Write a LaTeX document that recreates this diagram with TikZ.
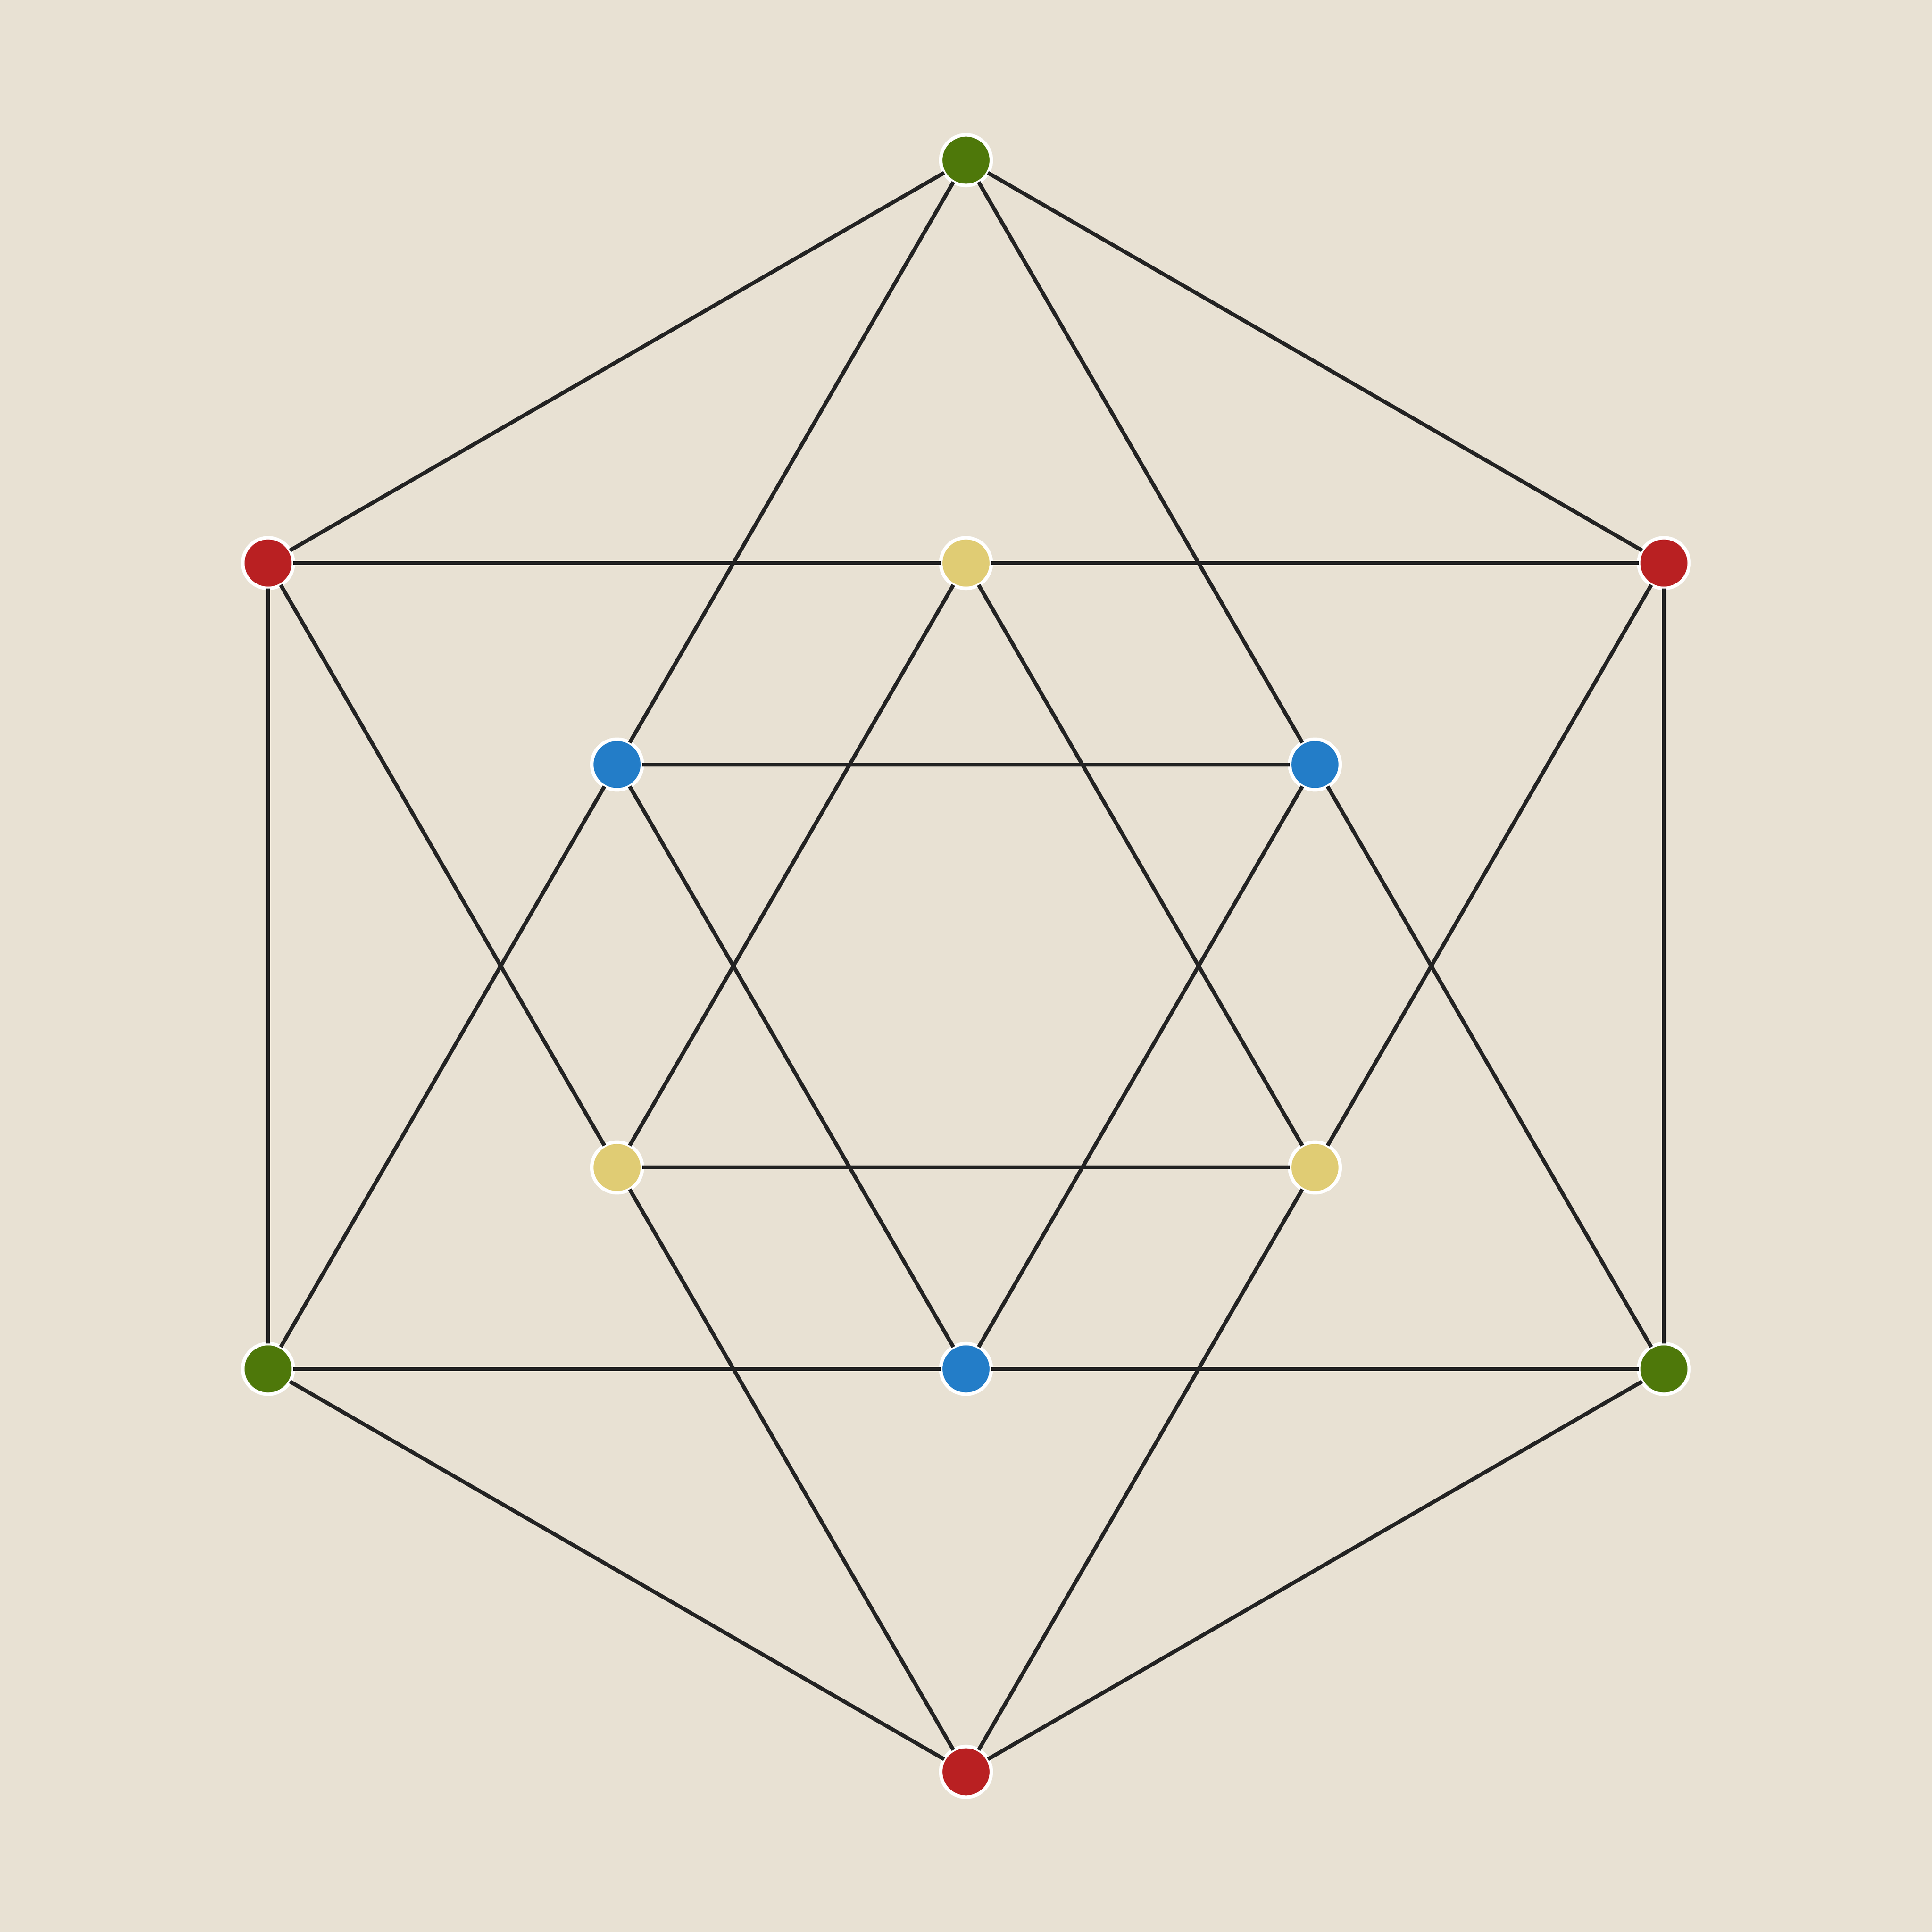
\documentclass[tikz,border=0pt]{standalone}
\usepackage{tikz}
\usetikzlibrary{shapes.geometric, arrows, positioning}
\usepackage{tkz-graph}

\definecolor{paper}{RGB}{232,225,211}
\definecolor{ink}{RGB}{35,35,35}
\definecolor{leaf}{RGB}{78,120,10}
\definecolor{brick}{RGB}{185,32,34}
\definecolor{sky}{RGB}{35,125,200}
\definecolor{straw}{RGB}{224,204,116}

\begin{document}
\begin{tikzpicture}
				\fill[paper] (-7.84,-7.84) rectangle (7.84,7.84);
				\useasboundingbox (-7.84,-7.84) rectangle (7.84,7.84);
				\GraphInit[vstyle=Normal]
				\SetVertexNormal[Shape=circle,LineWidth = 0.8pt,LineColor=white,MinSize=0.41cm,InnerSep=0pt]
				\tikzset{EdgeStyle/.append style = {color = ink, line width=0.9pt}}
				\renewcommand*{\VertexLineWidth}{0.8pt}%vertex thickness
				\renewcommand*{\EdgeLineWidth}{0.9pt}% edge thickness
				
				\Vertex[NoLabel,x=0,y=6.54]{TG}
				
				\Vertex[NoLabel,x=-5.664,y=3.27]{LR}
				\Vertex[NoLabel,x=0,y=3.27]{YT}
				\Vertex[NoLabel,x=5.664,y=3.27]{RR}
				
				\Vertex[NoLabel,x=-2.832,y=1.635]{BL}
				\Vertex[NoLabel,x=2.832,y=1.635]{BR}
				
				\Vertex[NoLabel,x=-2.832,y=-1.635]{YL}
				\Vertex[NoLabel,x=2.832,y=-1.635]{YR}
				
				\Vertex[NoLabel,x=-5.664,y=-3.27]{GL}
				\Vertex[NoLabel,x=0,y=-3.27]{BB}
				\Vertex[NoLabel,x=5.664,y=-3.27]{GR}
				
				\Vertex[NoLabel,x=0,y=-6.54]{RB}
				
				\AddVertexColor{leaf}{TG,GL,GR}
				\AddVertexColor{brick}{LR,RR,RB}
				\AddVertexColor{sky}{BL,BR,BB}
				\AddVertexColor{straw}{YT,YL,YR}
				
				%%%%%%%%%%%%%%%%%%%%%%%%%%%%%%
				
				\Edge (TG)(LR)
				\Edge (TG)(RR)
				\Edge (TG)(BL)
				\Edge (TG)(BR)
				
				\Edge (LR)(YT)
				\Edge (YT)(RR)
				\Edge (LR)(GL)
				\Edge (RR)(GR)
				\Edge (LR)(YL)
				\Edge (RR)(YR)
				
				\Edge (YT)(YL)
				\Edge (YT)(YR)
				\Edge (YL)(YR)
				
				\Edge (BL)(BR)
				\Edge (BL)(BB)
				\Edge (BR)(BB)
				\Edge (GL)(BL)
				\Edge (GR)(BR)
				
				\Edge (GL)(BB)
				\Edge (BB)(GR)
				\Edge (YL)(RB)
				\Edge (YR)(RB)
				\Edge (GL)(RB)
				\Edge (GR)(RB)
				
			\end{tikzpicture}
\end{document}
